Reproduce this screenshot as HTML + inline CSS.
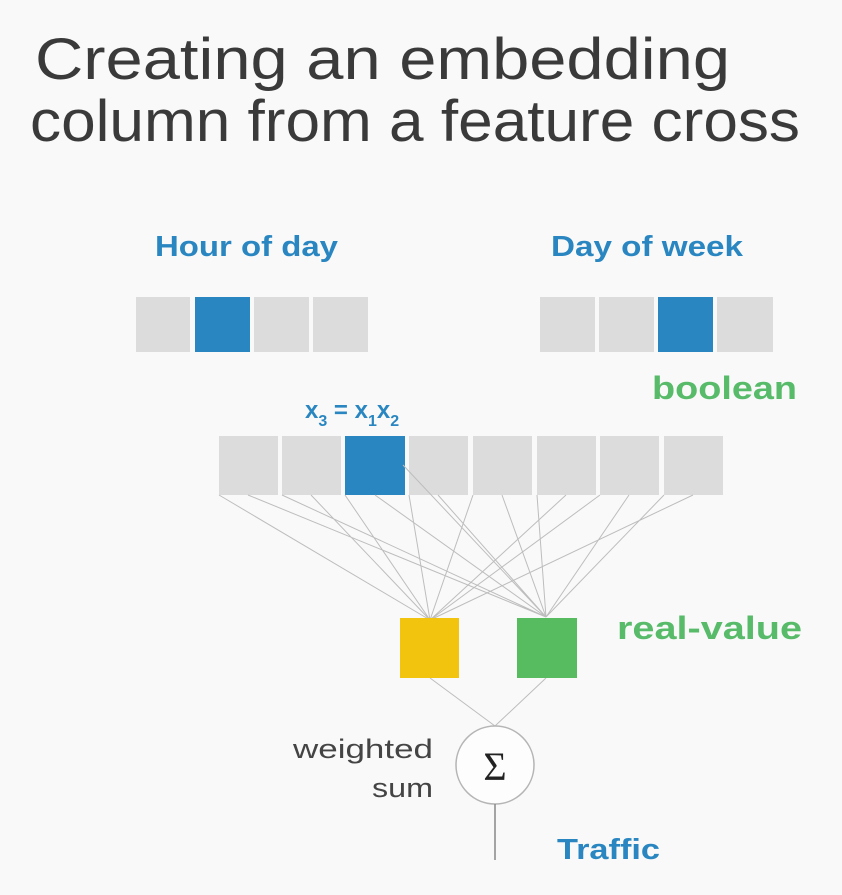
<!DOCTYPE html>
<html><head><meta charset="utf-8"><style>
html,body{margin:0;padding:0;background:#f9f9f9;}
svg{display:block}
text{font-family:"Liberation Sans",sans-serif}
</style></head><body>
<svg width="842" height="895" viewBox="0 0 842 895" xmlns="http://www.w3.org/2000/svg">
<rect width="842" height="895" fill="#f9f9f9"/>
<text x="35" y="79" font-size="58" fill="#3a3a3a" textLength="695" lengthAdjust="spacingAndGlyphs">Creating an embedding</text>
<text x="30" y="141" font-size="58" fill="#3a3a3a" textLength="770" lengthAdjust="spacingAndGlyphs">column from a feature cross</text>

<text x="155" y="256" font-size="29" font-weight="bold" fill="#2a86c1" textLength="183" lengthAdjust="spacingAndGlyphs">Hour of day</text>
<text x="551" y="256" font-size="29" font-weight="bold" fill="#2a86c1" textLength="192" lengthAdjust="spacingAndGlyphs">Day of week</text>

<g fill="#dcdcdc">
<rect x="136" y="297" width="54" height="55"/>
<rect x="195" y="297" width="55" height="55" fill="#2a86c1"/>
<rect x="254" y="297" width="55" height="55"/>
<rect x="313" y="297" width="55" height="55"/>
<rect x="540" y="297" width="55" height="55"/>
<rect x="599" y="297" width="55" height="55"/>
<rect x="658" y="297" width="55" height="55" fill="#2a86c1"/>
<rect x="717" y="297" width="56" height="55"/>
</g>

<text x="652" y="399" font-size="32" font-weight="bold" fill="#57bb6a" textLength="145" lengthAdjust="spacingAndGlyphs">boolean</text>
<text x="617" y="639" font-size="32" font-weight="bold" fill="#57bb6a" textLength="185" lengthAdjust="spacingAndGlyphs">real-value</text>

<text x="305" y="418" font-size="24" font-weight="bold" fill="#2a86c1">x<tspan font-size="16" dy="8">3</tspan><tspan dy="-8"> = x</tspan><tspan font-size="16" dy="8">1</tspan><tspan dy="-8">x</tspan><tspan font-size="16" dy="8">2</tspan></text>

<g fill="#dcdcdc">
<rect x="219" y="436" width="59" height="59"/>
<rect x="282" y="436" width="59" height="59"/>
<rect x="345" y="436" width="60" height="59" fill="#2a86c1"/>
<rect x="409" y="436" width="59" height="59"/>
<rect x="473" y="436" width="59" height="59"/>
<rect x="537" y="436" width="59" height="59"/>
<rect x="600" y="436" width="59" height="59"/>
<rect x="664" y="436" width="59" height="59"/>
</g>

<g stroke="#bdbdbd" stroke-width="1" fill="none">
<path d="M219 495L430 620M248 495L546 617M282 495L546 617M311 495L430 620M345 495L430 620M375 495L546 617M409 495L430 620M438 495L546 617M473 495L430 620M502 495L546 617M537 495L546 617M566 495L430 620M600 495L430 620M629 495L546 617M664 495L546 617M693 495L430 620M403 465L546 617"/>
<path d="M430 678L495 726M546 678L495 726"/>
</g>

<rect x="400" y="618" width="59" height="60" fill="#f2c40e"/>
<rect x="517" y="618" width="60" height="60" fill="#57bb5f"/>

<circle cx="495" cy="765" r="39" fill="#fdfdfd" stroke="#b5b5b5" stroke-width="1.5"/>
<text x="495" y="780" text-anchor="middle" font-size="40" fill="#222" style="font-family:'Liberation Serif',serif">Σ</text>
<line x1="495" y1="804" x2="495" y2="860" stroke="#888" stroke-width="1.5"/>

<text x="293" y="758" font-size="27" fill="#444" textLength="140" lengthAdjust="spacingAndGlyphs">weighted</text>
<text x="372" y="797" font-size="27" fill="#444" textLength="61" lengthAdjust="spacingAndGlyphs">sum</text>
<text x="557" y="859" font-size="29" font-weight="bold" fill="#2a86c1" textLength="103" lengthAdjust="spacingAndGlyphs">Traffic</text>
</svg>
</body></html>
